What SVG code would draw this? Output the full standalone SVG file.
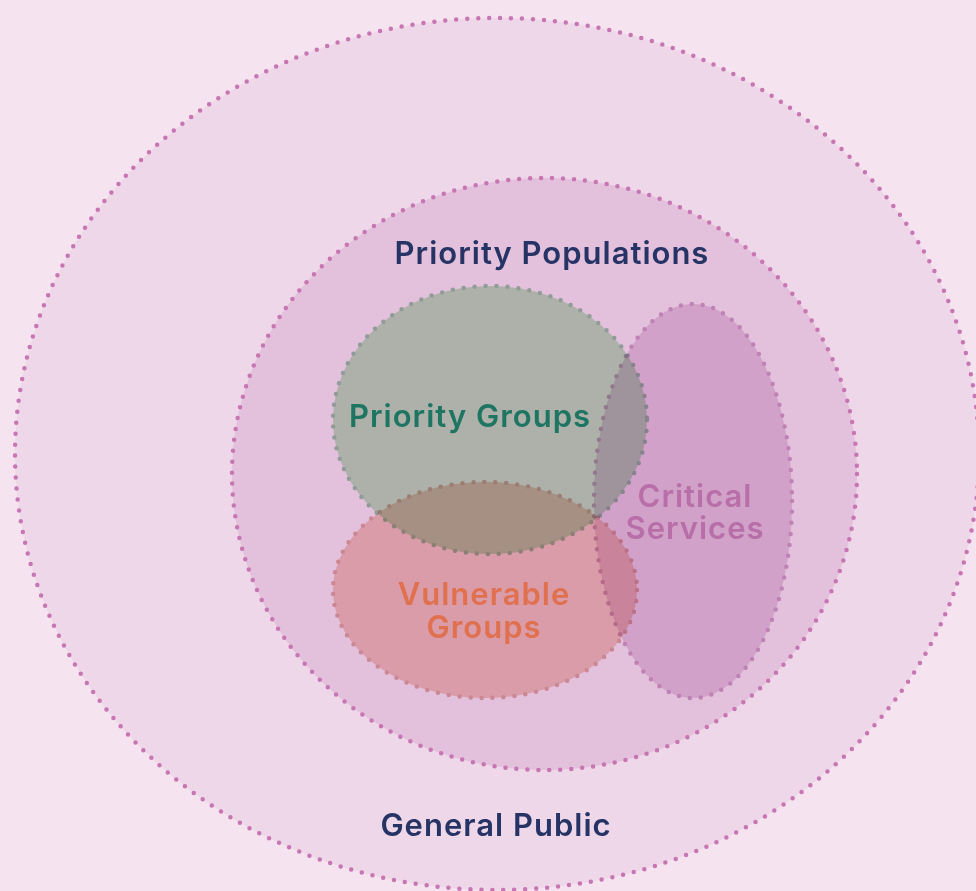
<svg xmlns="http://www.w3.org/2000/svg" width="976" height="891" viewBox="0 0 976 891">
<style>
.lbl{font-family:Inter,"Open Sans","Liberation Sans",sans-serif;font-weight:600;font-size:31px;letter-spacing:1px;text-anchor:middle}
.dot{stroke-dasharray:0 11;stroke-linecap:round}
.mul{mix-blend-mode:multiply}
</style>
<rect width="976" height="891" fill="#f5e4ef"/>
<g id="general-public">
<ellipse cx="497" cy="454" rx="482" ry="436" fill="#eed7e8" stroke="#c775b3" stroke-width="4.5" class="dot"/>
<text class="lbl" x="496" y="836" fill="#253365">General Public</text>
</g>
<g id="priority-populations">
<ellipse cx="544.5" cy="474" rx="312.5" ry="296" fill="#e3c0db" stroke="#c775b3" stroke-width="4.5" class="dot"/>
<text class="lbl" x="552" y="264" fill="#253365">Priority Populations</text>
</g>
<g id="priority-groups" class="mul">
<ellipse cx="490" cy="420" rx="157" ry="134" fill="#c3ecc6" stroke="#a3cfb2" stroke-width="4.5" class="dot"/>
</g>
<g id="vulnerable-groups" class="mul">
<ellipse cx="485" cy="590" rx="152" ry="108" fill="#f4cfc4" stroke="#e4b4ab" stroke-width="4.5" class="dot"/>
</g>
<g id="critical-services" class="mul">
<ellipse cx="693" cy="501" rx="99" ry="197" fill="#ecd6ea" stroke="#d6add2" stroke-width="4.5" class="dot"/>
</g>
<g id="labels">
<text class="lbl" x="470" y="427" fill="#1e7562">Priority Groups</text>
<text class="lbl" x="484" y="605" fill="#e0704e">Vulnerable</text>
<text class="lbl" x="484" y="638" fill="#e0704e">Groups</text>
<text class="lbl" x="695" y="507" fill="#b86fa8">Critical</text>
<text class="lbl" x="695" y="539" fill="#b86fa8">Services</text>
</g>
</svg>
